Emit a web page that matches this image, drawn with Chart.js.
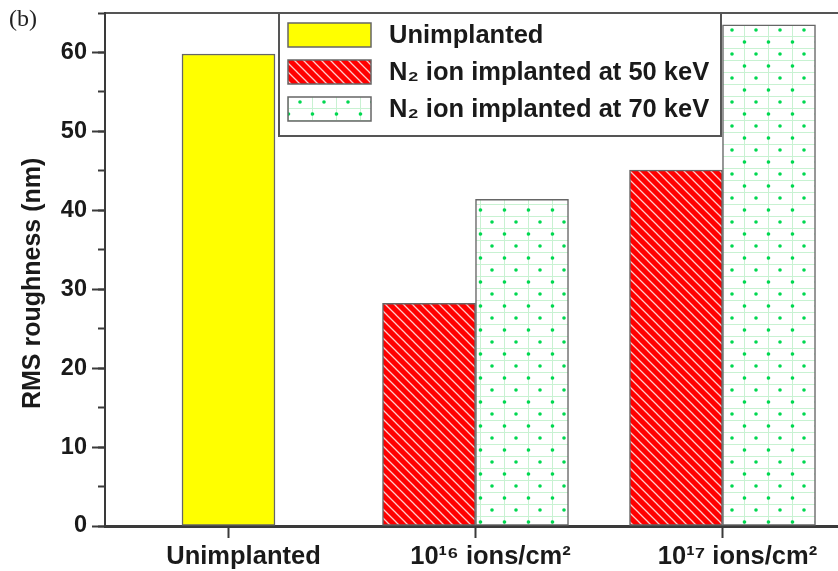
<!DOCTYPE html>
<html>
<head>
<meta charset="utf-8">
<script src="https://cdn.jsdelivr.net/npm/chart.js@4.4.0/dist/chart.umd.min.js"></script>
<style>
  html, body { margin: 0; padding: 0; background: #fff; overflow: hidden; }
  #wrap { width: 846px; height: 571px; }
</style>
</head>
<body>
<div id="wrap"><canvas id="chart" width="846" height="571"></canvas></div>
<script>
// données (b)
const categories = ['Unimplanted', '10\u00B9\u2076 ions/cm\u00B2', '10\u00B9\u2077 ions/cm\u00B2'];
const seriesNames = ['Unimplanted', 'N\u2082 ion implanted at 50 keV', 'N\u2082 ion implanted at 70 keV'];
const unimplanted = [59.8, null, null];
const implanted50 = [null, 28.2, 45.1];
const implanted70 = [null, 41.4, 63.5];
const yTicks = [0, 10, 20, 30, 40, 50, 60];

const FONT = "'Liberation Sans', Arial, sans-serif";
const AXIS = '#3a3a3a';

// motif rouge hachuré
function hatchPattern() {
    const c = document.createElement('canvas');
    c.width = 9; c.height = 9;
    const g = c.getContext('2d');
    g.fillStyle = '#ff0000';
    g.fillRect(0, 0, 9, 9);
    g.strokeStyle = 'rgba(255,225,225,0.9)';
    g.lineWidth = 1.3;
    g.beginPath();
    g.moveTo(-1, -1); g.lineTo(10, 10);
    g.moveTo(-1, 8); g.lineTo(1, 10);
    g.moveTo(8, -1); g.lineTo(10, 1);
    g.stroke();
    return g.createPattern(c, 'repeat');
}

// motif vert pointillé avec grille claire
function dotPattern() {
    const c = document.createElement('canvas');
    c.width = 24; c.height = 24;
    const g = c.getContext('2d');
    g.fillStyle = '#ffffff';
    g.fillRect(0, 0, 24, 24);
    g.strokeStyle = '#c8f2d2';
    g.lineWidth = 1;
    g.beginPath();
    g.moveTo(0, 0.5); g.lineTo(24, 0.5);
    g.moveTo(0, 12.5); g.lineTo(24, 12.5);
    g.moveTo(0.5, 0); g.lineTo(0.5, 24);
    g.stroke();
    g.fillStyle = '#00d850';
    [[12, 6], [0.5, 18], [24.5, 18]].forEach(function(p) {
        g.beginPath();
        g.arc(p[0], p[1], 1.8, 0, Math.PI * 2);
        g.fill();
    });
    return g.createPattern(c, 'repeat');
}

const fills = ['#ffff00', hatchPattern(), dotPattern()];

// légende encadrée dans la zone du graphique + "(b)"
const legendBox = {
    id: 'legendBox',
    afterDraw(chart) {
        const ctx = chart.ctx;
        const a = chart.chartArea;
        const x0 = a.left + 174, y0 = a.top, w = 442, h = 123;
        ctx.save();
        ctx.fillStyle = '#fff';
        ctx.fillRect(x0, y0, w, h);
        ctx.strokeStyle = '#555';
        ctx.lineWidth = 2;
        ctx.strokeRect(x0, y0, w, h);
        chart.data.datasets.forEach(function(ds, i) {
            const cy = y0 + 22 + i * 37;
            ctx.fillStyle = ds.backgroundColor;
            ctx.fillRect(x0 + 9, cy - 12, 83, 24);
            ctx.strokeStyle = '#666';
            ctx.lineWidth = 1.5;
            ctx.strokeRect(x0 + 9, cy - 12, 83, 24);
            ctx.fillStyle = '#1a1a1a';
            ctx.font = 'bold 25.5px ' + FONT;
            ctx.textBaseline = 'middle';
            ctx.textAlign = 'left';
            ctx.fillText(ds.label, x0 + 110, cy + 1);
        });
        ctx.font = "24px 'Liberation Serif', 'Times New Roman', serif";
        ctx.fillStyle = '#222';
        ctx.textBaseline = 'middle';
        ctx.fillText('(b)', 9, 20);
        ctx.restore();
    }
};

// pas de marge auto en haut/bas pour les axes y
function fixY(width) {
    return function(s) {
        s.width = width;
        s.paddingTop = 0;
        s.paddingBottom = 0;
    };
}

new Chart(document.getElementById('chart').getContext('2d'), {
    type: 'bar',
    data: {
        labels: categories,
        datasets: [unimplanted, implanted50, implanted70].map(function(values, i) {
            return {
                label: seriesNames[i],
                data: values,
                backgroundColor: fills[i],
                borderColor: '#666',
                borderWidth: 1.5,
                borderSkipped: false,
                barThickness: 93,
                skipNull: true
            };
        })
    },
    options: {
        responsive: false,
        animation: false,
        layout: { padding: { top: 13, left: 0, right: 0, bottom: 0 } },
        plugins: { legend: { display: false }, tooltip: { enabled: false } },
        scales: {
            x: {
                type: 'category',
                position: 'bottom',
                offset: true,
                grid: { display: true, drawOnChartArea: false, offset: false, tickLength: 12, tickColor: AXIS, tickWidth: 2 },
                border: { display: true, color: AXIS, width: 3 },
                ticks: { color: '#1a1a1a', font: { family: FONT, size: 25.5, weight: 'bold' }, padding: 4, labelOffset: 15, maxRotation: 0 },
                afterFit(s) { s.height = 45; }
            },
            xTop: {
                type: 'category',
                position: 'top',
                offset: true,
                grid: { display: false },
                border: { display: true, color: '#555', width: 2 },
                ticks: { display: false },
                afterFit(s) { s.height = 0; }
            },
            y: {
                type: 'linear',
                position: 'left',
                weight: 1,
                min: 0,
                max: 65,
                grid: { display: true, drawOnChartArea: false, tickLength: 13, tickColor: AXIS, tickWidth: 2 },
                border: { display: true, color: AXIS, width: 2 },
                ticks: {
                    stepSize: 10,
                    includeBounds: false,
                    color: '#1a1a1a',
                    padding: 5,
                    font: { family: FONT, size: 23.5, weight: 'bold', lineHeight: 1 },
                    callback: function(v) { return yTicks.includes(v) ? String(v) : ''; }
                },
                title: {
                    display: true,
                    text: 'RMS roughness (nm)    ',
                    color: '#1a1a1a',
                    font: { family: FONT, size: 25, weight: 'bold' },
                    padding: { top: 18, bottom: 0 }
                },
                afterFit: fixY(105)
            },
            yMinor: {
                type: 'linear',
                position: 'left',
                weight: 0,
                min: 0,
                max: 65,
                grid: { display: true, drawOnChartArea: false, tickLength: 7, tickColor: AXIS, tickWidth: 2 },
                border: { display: false },
                ticks: { stepSize: 5, includeBounds: false, display: false },
                afterFit: fixY(0)
            }
        }
    },
    plugins: [legendBox]
});
</script>
</body>
</html>
